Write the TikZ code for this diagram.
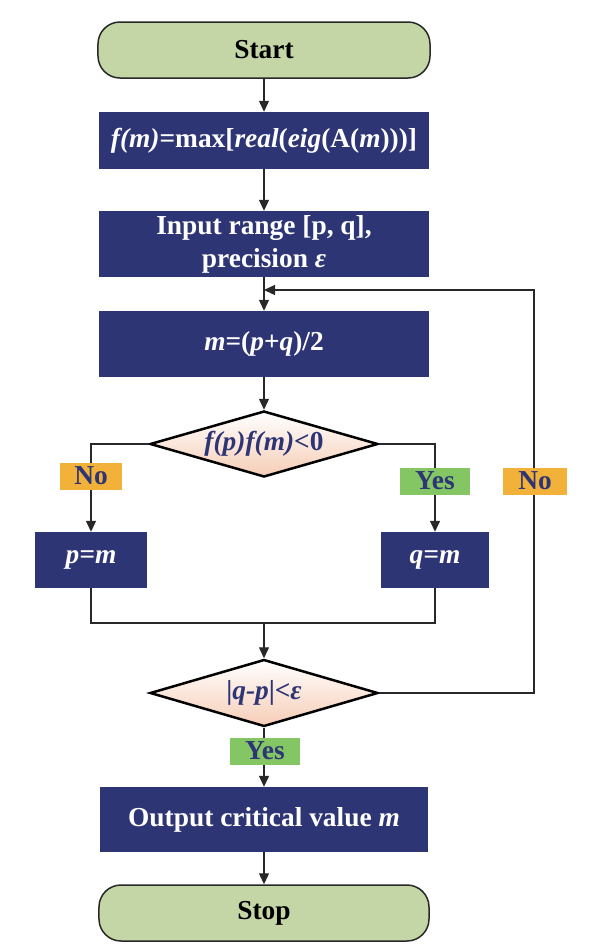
\documentclass[tikz,border=0pt]{standalone}
\usepackage{fontspec}
\setmainfont{Liberation Serif}
\usetikzlibrary{shapes.geometric,arrows.meta}
\definecolor{boxblue}{RGB}{46,53,117}
\definecolor{termgreen}{RGB}{196,214,166}
\definecolor{peach}{RGB}{246,205,182}
\definecolor{noorange}{RGB}{242,177,56}
\definecolor{yesgreen}{RGB}{132,197,100}
\definecolor{linegray}{RGB}{40,40,40}
\begin{document}
\begin{tikzpicture}[x=1bp,y=-1bp,
  every node/.style={font=\fontsize{27.5}{33}\selectfont\bfseries},
  term/.style={draw=linegray,line width=1.5bp,fill=termgreen,rounded corners=22bp,
    minimum width=332bp,minimum height=56bp},
  proc/.style={fill=boxblue,text=white,inner sep=0pt,align=center},
  test/.style={diamond,draw=black,line width=2.5bp,aspect=3.4,top color=white,
    bottom color=peach,text=boxblue,minimum width=228bp,minimum height=66bp,inner sep=0pt},
  nolab/.style={fill=noorange,text=boxblue,minimum width=62bp,minimum height=27bp,inner sep=0pt},
  yeslab/.style={fill=yesgreen,text=boxblue,minimum width=70bp,minimum height=27bp,inner sep=0pt},
  line/.style={draw=linegray,line width=1.3bp},
  arr/.style={line,-{Triangle[length=11bp,width=10bp]}}]
  \useasboundingbox (0,0) rectangle (613,952);
  \node (start) at (264,50) [term] {Start};
  \node (fm) at (264,140.5) [proc,minimum width=330bp,minimum height=57bp]
    {\textit{f(m)}=max[\textit{real}(\textit{eig}(A(\textit{m})))]};
  \node (input) at (264,244) [proc,minimum width=330bp,minimum height=66bp]
    {Input range [p, q],\\precision \textit{ε}};
  \node (mid) at (264,344) [proc,minimum width=330bp,minimum height=66bp]
    {\textit{m}=(\textit{p}+\textit{q})/2};
  \node (t1) at (264,444) [test] {\textit{f(p)f(m)}<0};
  \node (pm) at (91,560) [proc,minimum width=112bp,minimum height=56bp] {\textit{p=m}};
  \node (qm) at (435,560) [proc,minimum width=108bp,minimum height=56bp] {\textit{q=m}};
  \node (t2) at (264,693) [test,minimum height=67bp] {|\textit{q-p}|<\textit{ε}};
  \node (out) at (264,819.5) [proc,minimum width=328bp,minimum height=65bp]
    {Output critical value \textit{m}};
  \node (stop) at (264,913) [term,minimum width=330bp] {Stop};
  \coordinate (merge) at (264,623);
  \coordinate (back) at (534,290);
  \coordinate (join) at (264,290);
  \draw[arr] (start) -- (fm);
  \draw[arr] (fm) -- (input);
  \draw[arr] (input) -- (mid);
  \draw[arr] (mid) -- (t1);
  \draw[arr] (t1.west) -| (pm.north);
  \draw[arr] (t1.east) -| (qm.north);
  \draw[line] (pm.south) |- (merge);
  \draw[line] (qm.south) |- (merge);
  \draw[arr] (merge) -- (t2);
  \draw[arr] (t2.east) -| (back) -- (join);
  \draw[arr] (t2) -- (out);
  \draw[arr] (out) -- (stop);
  \node (no1) at (91,476) [nolab] {No};
  \node (yes1) at (435,481) [yeslab] {Yes};
  \node (no2) at (535,481) [nolab,minimum width=64bp] {No};
  \node (yes2) at (265,751) [yeslab] {Yes};
\end{tikzpicture}
\end{document}
